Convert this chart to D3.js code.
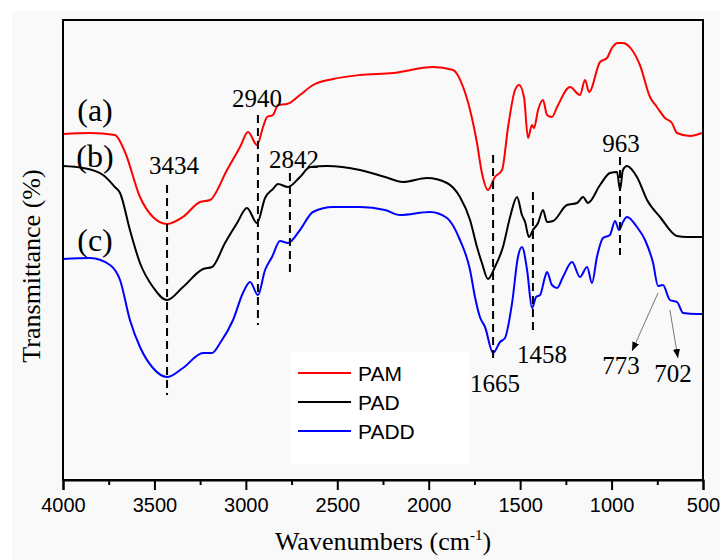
<!DOCTYPE html>
<html>
<head>
<meta charset="utf-8">
<script src="https://cdn.jsdelivr.net/npm/d3@7"></script>
<style>
  body { margin: 0; background: #fff; }
  svg { display: block; }
</style>
</head>
<body>
<svg id="chart"></svg>
<script>
// spectra: [wavenumber, transmittance (a.u.)]
const pam = [
  [4000, 69.2], [3852, 69.4], [3716, 69.0], [3661, 65.6], [3579, 56.6], [3508, 52.6],
  [3431, 51.2], [3344, 52.6], [3251, 55.6], [3196, 56.0], [3103, 62.0], [3032, 66.6],
  [2988, 69.6], [2939, 67.0], [2906, 70.6], [2884, 72.6], [2852, 73.0], [2824, 75.0],
  [2775, 75.2], [2704, 77.0], [2633, 79.0], [2523, 80.2], [2376, 81.0], [2195, 81.4],
  [1977, 82.6], [1867, 82.0], [1812, 78.6], [1774, 74.0], [1736, 67.4], [1709, 61.4],
  [1676, 58.0], [1638, 60.6], [1599, 62.0], [1566, 70.6], [1528, 78.0], [1506, 79.0],
  [1479, 76.6], [1457, 68.4], [1435, 71.0], [1424, 70.4], [1402, 74.0], [1375, 76.0],
  [1353, 73.0], [1326, 72.6], [1298, 74.6], [1227, 78.6], [1173, 77.0], [1145, 80.0],
  [1123, 77.6], [1063, 83.6], [1025, 84.4], [998, 86.4], [965, 87.4], [938, 87.4],
  [888, 86.0], [845, 83.0], [790, 76.6], [752, 74.6], [708, 72.4], [670, 71.4],
  [642, 69.4], [571, 68.8], [506, 69.4]
];

const pad = [
  [4000, 62.8], [3891, 62.4], [3781, 61.0], [3716, 58.6], [3688, 57.4], [3634, 50.0],
  [3579, 43.4], [3508, 38.6], [3431, 36.0], [3344, 38.6], [3234, 42.2], [3185, 42.6],
  [3114, 47.4], [3048, 51.4], [2994, 54.4], [2939, 51.4], [2895, 56.4], [2852, 58.2],
  [2824, 59.2], [2770, 58.6], [2704, 60.6], [2649, 62.6], [2556, 62.8], [2376, 62.0],
  [2239, 60.6], [2141, 59.6], [2009, 60.4], [1900, 59.4], [1829, 56.6], [1774, 52.0],
  [1736, 46.6], [1709, 43.4], [1676, 40.2], [1638, 42.6], [1594, 46.6], [1555, 52.6],
  [1517, 56.6], [1490, 53.0], [1473, 51.6], [1452, 48.6], [1430, 50.0], [1402, 51.4],
  [1375, 54.0], [1353, 51.6], [1320, 51.8], [1244, 55.0], [1189, 55.4], [1156, 56.6],
  [1129, 55.4], [1063, 59.0], [1009, 61.4], [970, 61.6], [954, 58.0], [938, 62.0],
  [916, 62.8], [861, 60.6], [806, 56.0], [735, 52.6], [642, 48.8], [588, 48.6],
  [506, 48.6]
];

const padd = [
  [4000, 44.2], [3852, 44.4], [3743, 43.0], [3688, 40.0], [3634, 32.0], [3579, 26.6],
  [3508, 22.4], [3431, 20.6], [3344, 22.4], [3234, 25.4], [3185, 25.4], [3141, 27.4],
  [3070, 32.0], [3016, 37.4], [2977, 39.6], [2934, 37.0], [2895, 42.0], [2857, 44.6],
  [2813, 47.8], [2770, 47.4], [2704, 50.0], [2633, 53.6], [2523, 54.6], [2376, 54.6],
  [2239, 54.0], [2157, 53.0], [1993, 53.6], [1900, 52.4], [1829, 48.0], [1774, 42.0],
  [1747, 36.6], [1720, 32.6], [1692, 30.6], [1648, 25.4], [1610, 27.6], [1583, 28.4],
  [1544, 35.4], [1512, 44.6], [1490, 46.6], [1462, 42.0], [1435, 34.4], [1413, 36.6],
  [1391, 37.0], [1364, 40.6], [1353, 41.6], [1326, 39.0], [1298, 38.4], [1266, 40.6],
  [1216, 43.6], [1173, 40.6], [1134, 42.6], [1107, 39.4], [1080, 44.6], [1047, 48.4],
  [1009, 49.0], [981, 51.8], [959, 50.0], [938, 51.6], [916, 52.6], [861, 50.6],
  [817, 48.0], [773, 43.4], [746, 38.8], [719, 39.0], [681, 36.0], [642, 35.6],
  [609, 33.4], [533, 33.2], [500, 33.2]
];

const seriesNames = ["PAM", "PAD", "PADD"];
const seriesColors = ["#ff0000", "#000000", "#0000ff"];
const xTicks = [4000, 3500, 3000, 2500, 2000, 1500, 1000, 500];

// dashed peak markers: [label, wavenumber, top, bottom]
const peakLines = [
  ["3434", 3431, 59.0, 17.0],
  ["2940", 2934, 73.0, 31.0],
  ["2842", 2759, 61.4, 41.6],
  ["1665", 1648, 65.0, 23.4],
  ["1458", 1430, 57.6, 29.0],
  ["963", 954, 64.6, 45.0]
];
// peak labels: [text, wavenumber, value]
const peakLabels = [
  ["3434", 3393, 61.2], ["2940", 2939, 74.6], ["2842", 2737, 62.4],
  ["963", 949, 65.6], ["1665", 1638, 17.6], ["1458", 1380, 23.4],
  ["773", 949, 21.2], ["702", 664, 19.6]
];
// arrows: [fromWn, fromVal, toWn, toVal]
const arrows = [
  [746, 37.4, 888, 25.8],
  [681, 34.0, 637, 24.4]
];
const curveLabels = [["(a)", 71.8], ["(b)", 62.6], ["(c)", 45.8]];

const width = 720, height = 560;
const margin = { top: 20, right: 17, bottom: 80, left: 63 };

const svg = d3.select("#chart")
  .attr("width", width)
  .attr("height", height);

// light grey page area
svg.append("rect")
  .attr("x", 12).attr("y", 11)
  .attr("width", width - 12).attr("height", height - 11)
  .attr("fill", "#f9f9f9");

const x = d3.scaleLinear().domain([4000, 500]).range([margin.left, width - margin.right]);
const y = d3.scaleLinear().domain([0, 92]).range([height - margin.bottom, margin.top]);

// legend backdrop
svg.append("rect")
  .attr("x", 290).attr("y", 352).attr("width", 180).attr("height", 112)
  .attr("fill", "#ffffff");

const line = d3.line()
  .x(d => x(d[0]))
  .y(d => y(d[1]))
  .curve(d3.curveMonotoneX);

[pam, pad, padd].forEach((s, i) => {
  svg.append("path")
    .datum(s)
    .attr("fill", "none")
    .attr("stroke", seriesColors[i])
    .attr("stroke-width", 2)
    .attr("stroke-linejoin", "round")
    .attr("d", line);
});

// dashed markers
svg.append("g").selectAll("line")
  .data(peakLines)
  .join("line")
  .attr("x1", d => x(d[1])).attr("x2", d => x(d[1]))
  .attr("y1", d => y(d[2])).attr("y2", d => y(d[3]))
  .attr("stroke", "#000")
  .attr("stroke-width", 2)
  .attr("stroke-dasharray", "8,5");

svg.append("g").selectAll("text")
  .data(peakLabels)
  .join("text")
  .attr("x", d => x(d[1]))
  .attr("y", d => y(d[2]))
  .attr("text-anchor", "middle")
  .style("font-family", "'Liberation Serif', 'Times New Roman', serif")
  .style("font-size", "25px")
  .text(d => d[0]);

svg.append("g").selectAll("text")
  .data(curveLabels)
  .join("text")
  .attr("x", x(3825))
  .attr("y", d => y(d[1]))
  .attr("text-anchor", "middle")
  .style("font-family", "'Liberation Serif', 'Times New Roman', serif")
  .style("font-size", "32px")
  .text(d => d[0]);

// arrows
svg.append("defs").append("marker")
  .attr("id", "head")
  .attr("viewBox", "0 0 10 10")
  .attr("refX", 10).attr("refY", 5)
  .attr("markerWidth", 9).attr("markerHeight", 9)
  .attr("markerUnits", "userSpaceOnUse")
  .attr("orient", "auto")
  .append("path")
  .attr("d", "M0,1L10,5L0,9Z")
  .attr("fill", "#000");

svg.append("g").selectAll("line")
  .data(arrows)
  .join("line")
  .attr("x1", d => x(d[0])).attr("y1", d => y(d[1]))
  .attr("x2", d => x(d[2])).attr("y2", d => y(d[3]))
  .attr("stroke", "#777")
  .attr("stroke-width", 1)
  .attr("marker-end", "url(#head)");

// frame
svg.append("rect")
  .attr("x", margin.left).attr("y", margin.top)
  .attr("width", width - margin.left - margin.right)
  .attr("height", height - margin.top - margin.bottom)
  .attr("fill", "none")
  .attr("stroke", "#000")
  .attr("stroke-width", 2);

// x axis
const xAxis = svg.append("g")
  .attr("transform", `translate(0,${height - margin.bottom})`)
  .call(d3.axisBottom(x).tickValues(xTicks).tickFormat(d3.format("d")).tickSize(10).tickPadding(8));
xAxis.select(".domain").attr("stroke-width", 2);
xAxis.selectAll(".tick line").attr("stroke-width", 2);
xAxis.selectAll("text")
  .style("font-family", "'Liberation Sans', Arial, sans-serif")
  .style("font-size", "20px")
  .attr("fill", "#000");

svg.append("g")
  .attr("transform", `translate(0,${height - margin.bottom})`)
  .call(d3.axisBottom(x).tickValues(d3.range(3750, 500, -500)).tickFormat("").tickSize(5))
  .call(g => g.select(".domain").remove())
  .selectAll(".tick line").attr("stroke-width", 2);

// axis titles
const title = svg.append("text")
  .attr("x", 383)
  .attr("y", 550)
  .attr("text-anchor", "middle")
  .style("font-family", "'Liberation Serif', 'Times New Roman', serif")
  .style("font-size", "26px");
title.append("tspan").text("Wavenumbers (cm");
title.append("tspan").attr("dy", -10).style("font-size", "15px").text("-1");
title.append("tspan").attr("dy", 10).text(")");

svg.append("text")
  .attr("transform", "translate(40,266) rotate(-90)")
  .attr("text-anchor", "middle")
  .style("font-family", "'Liberation Serif', 'Times New Roman', serif")
  .style("font-size", "26px")
  .text("Transmittance (%)");

// legend
const legend = svg.append("g").selectAll("g")
  .data(seriesNames)
  .join("g")
  .attr("transform", (d, i) => `translate(298,${373 + i * 29})`);
legend.append("line")
  .attr("x1", 0).attr("x2", 53)
  .attr("stroke", (d, i) => seriesColors[i])
  .attr("stroke-width", 2);
legend.append("text")
  .attr("x", 60).attr("y", 8)
  .style("font-family", "'Liberation Sans', Arial, sans-serif")
  .style("font-size", "21px")
  .text(d => d);
</script>
</body>
</html>
